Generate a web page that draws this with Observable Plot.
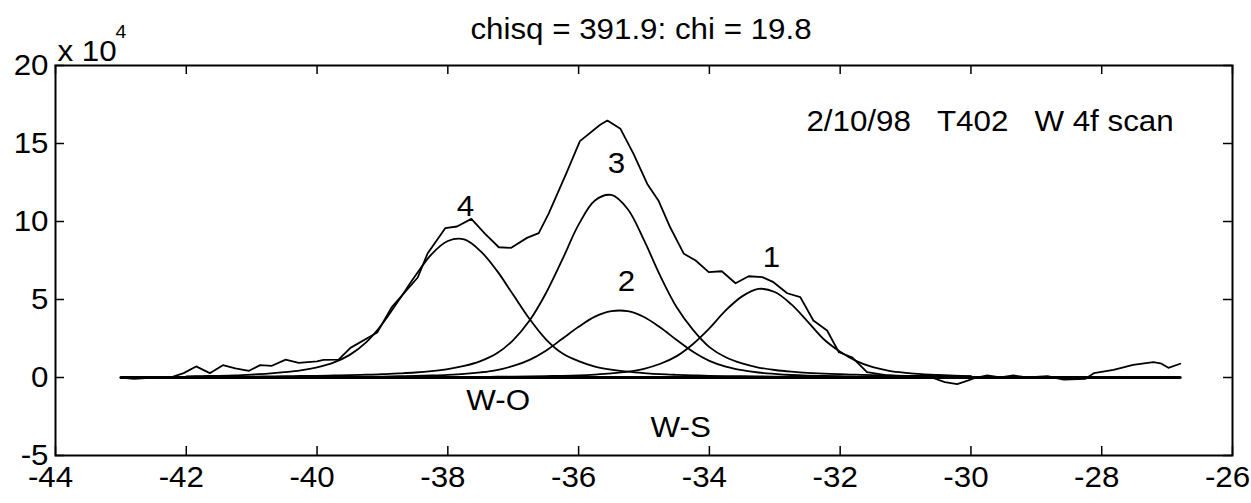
<!DOCTYPE html>
<html><head><meta charset="utf-8">
<script src="https://cdn.jsdelivr.net/npm/d3@7"></script>
<script src="https://cdn.jsdelivr.net/npm/@observablehq/plot@0.6"></script>
<style>body{margin:0;background:#fff;} svg{display:block}</style>
</head><body><div id="chart"></div>
<script>
// ---- data ----
const titleText = "chisq = 391.9: chi = 19.8";
const headerText = "2/10/98\u00a0\u00a0\u00a0T402\u00a0\u00a0\u00a0W 4f scan";
const xTicks = [-44, -42, -40, -38, -36, -34, -32, -30, -28, -26];
const yTicks = [-5, 0, 5, 10, 15, 20];

// measured scan (x 10^4)
const dataX = [-43.0,-42.8,-42.5,-42.2,-42.04,-41.85,-41.64,-41.59,-41.44,-41.25,
  -41.04,-40.87,-40.69,-40.48,-40.28,-40.0,-39.9,-39.67,-39.49,-39.08,
  -38.86,-38.46,-38.31,-38.04,-37.86,-37.64,-37.43,-37.22,-37.03,-36.79,
  -36.61,-36.46,-36.18,-35.98,-35.67,-35.56,-35.36,-35.16,-34.95,-34.78,
  -34.60,-34.39,-34.21,-34.01,-33.81,-33.60,-33.40,-33.19,-33.02,-32.81,
  -32.61,-32.41,-32.20,-32.02,-31.82,-31.59,-31.3,-31.0,-30.6,-30.4,
  -30.21,-30.05,-29.96,-29.75,-29.55,-29.35,-29.14,-28.83,-28.58,-28.25,
  -28.12,-27.82,-27.52,-27.21,-27.1,-26.98,-26.8];
const dataY = [0.0,-0.08,0.0,0.05,0.28,0.71,0.28,0.40,0.79,0.58,
  0.43,0.79,0.75,1.15,0.94,1.03,1.13,1.15,1.9,2.88,
  4.49,6.41,7.95,9.57,9.68,10.17,9.21,8.35,8.31,8.95,
  9.25,10.49,13.16,15.15,16.2,16.47,15.94,14.33,12.41,11.35,
  9.63,7.93,7.5,6.75,6.81,6.04,6.49,6.43,6.11,5.40,
  5.15,3.65,3.01,1.62,1.30,0.34,0.15,0.05,0.0,-0.3,
  -0.42,-0.2,-0.06,0.13,0.0,0.13,0.0,0.08,-0.13,-0.08,
  0.28,0.49,0.81,0.98,0.91,0.62,0.88];

// fitted components sampled on a common grid
const compX = [-42,-41.75,-41.5,-41.25,-41,-40.75,-40.5,-40.25,-40,-39.75,
  -39.5,-39.25,-39,-38.75,-38.5,-38.25,-38,-37.75,-37.5,-37.25,
  -37,-36.75,-36.5,-36.25,-36,-35.75,-35.5,-35.25,-35,-34.75,
  -34.5,-34.25,-34,-33.75,-33.5,-33.25,-33,-32.75,-32.5,-32.25,
  -32,-31.75,-31.5,-31.25,-31,-30.75,-30.5,-30.25,-30];
const comp4 = [0.07,0.09,0.11,0.14,0.19,0.25,0.34,0.46,0.65,0.95,
  1.45,2.25,3.45,4.95,6.5,7.9,8.75,8.85,8.1,6.85,
  5.3,3.75,2.45,1.55,1.05,0.7,0.5,0.37,0.28,0.21,
  0.17,0.14,0.11,0.09,0.08,0.07,0.06,0.05,0.05,0.04,
  0.04,0.04,0.03,0.03,0.03,0.03,0.02,0.02,0.02];
const comp3 = [0.04,0.05,0.05,0.06,0.06,0.07,0.08,0.10,0.11,0.13,
  0.15,0.18,0.21,0.26,0.32,0.41,0.54,0.74,1.05,1.55,
  2.4,3.65,5.4,7.55,9.8,11.35,11.7,10.8,8.8,6.5,
  4.5,3.05,1.95,1.3,0.9,0.64,0.48,0.37,0.29,0.25,
  0.21,0.18,0.15,0.13,0.11,0.10,0.09,0.08,0.07];
const comp2 = [0.01,0.01,0.01,0.02,0.02,0.02,0.02,0.03,0.03,0.03,
  0.04,0.05,0.06,0.08,0.10,0.13,0.17,0.23,0.33,0.48,
  0.74,1.13,1.72,2.48,3.25,3.9,4.25,4.25,3.88,3.2,
  2.4,1.65,1.07,0.7,0.47,0.32,0.23,0.16,0.12,0.10,
  0.08,0.06,0.05,0.04,0.04,0.03,0.03,0.02,0.02];
const comp1 = [0.01,0.01,0.01,0.01,0.01,0.01,0.01,0.01,0.02,0.02,
  0.02,0.02,0.02,0.02,0.03,0.03,0.03,0.04,0.04,0.05,
  0.055,0.07,0.09,0.11,0.14,0.19,0.26,0.37,0.56,0.88,
  1.37,2.15,3.15,4.3,5.2,5.68,5.48,4.7,3.6,2.45,
  1.65,1.05,0.66,0.43,0.3,0.21,0.16,0.12,0.09];

const baseX = [-43, -26.8];
const baseY = [0, 0];

// annotation labels (text, x, y in data units)
const labelText = ["4", "3", "2", "1", "W-O", "W-S"];
const labelX = [-37.73, -35.42, -35.27, -33.05, -37.23, -34.44];
const labelY = [10.96, 13.72, 6.15, 7.69, -1.47, -3.2];

// ---- build ----
const W = 1251, H = 503;
const mT = 65, mB = 48, mL = 55, mR = 19;
const PW = W - mL - mR, PH = H - mT - mB;
const TL = 9; // inward tick length
const FS = 29;

const measured = dataX.map((x, i) => ({x, y: dataY[i]}));
const comps = [comp1, comp2, comp3, comp4].map(c => compX.map((x, i) => ({x, y: c[i]})));
const base = baseX.map((x, i) => ({x, y: baseY[i]}));
const labels = labelText.map((t, i) => ({t, x: labelX[i], y: labelY[i]}));

const chart = Plot.plot({
  width: W, height: H,
  marginTop: mT, marginBottom: mB, marginLeft: mL, marginRight: mR,
  x: {domain: [-44, -26], axis: null},
  y: {domain: [-5, 20], axis: null},
  style: {fontFamily: "'Liberation Sans', Arial, sans-serif", background: "#fff", color: "#000"},
  marks: [
    Plot.line(base, {x: "x", y: "y", stroke: "#000", strokeWidth: 3}),
    ...comps.map(c => Plot.line(c, {x: "x", y: "y", stroke: "#000", strokeWidth: 1.8, curve: "catmull-rom"})),
    Plot.line(measured, {x: "x", y: "y", stroke: "#000", strokeWidth: 1.8}),
    Plot.frame({stroke: "#000", strokeWidth: 2}),
    Plot.tickX(xTicks, {x: d => d, insetTop: PH - TL, stroke: "#000", strokeWidth: 1.5}),
    Plot.tickX(xTicks, {x: d => d, insetBottom: PH - TL, stroke: "#000", strokeWidth: 1.5}),
    Plot.tickY(yTicks, {y: d => d, insetRight: PW - TL, stroke: "#000", strokeWidth: 1.5}),
    Plot.tickY(yTicks, {y: d => d, insetLeft: PW - TL, stroke: "#000", strokeWidth: 1.5}),
    Plot.text(xTicks, {x: d => d, frameAnchor: "bottom", dx: -5, dy: 31, text: d => String(d), fontSize: FS, fill: "#000"}),
    Plot.text(yTicks, {y: d => d, frameAnchor: "left", dx: -7, textAnchor: "end", text: d => String(d), fontSize: FS, fill: "#000"}),
    Plot.text([titleText], {frameAnchor: "top", dx: -3, dy: -47, text: d => d, fontSize: FS, fill: "#000"}),
    Plot.text(["x 10"], {frameAnchor: "top-left", textAnchor: "start", dx: 2, dy: -25, text: d => d, fontSize: FS, fill: "#000"}),
    Plot.text(["4"], {frameAnchor: "top-left", textAnchor: "start", dx: 60, dy: -40, text: d => d, fontSize: 18, fill: "#000"}),
    Plot.text([headerText], {x: () => -26.9, y: () => 16.4, textAnchor: "end", text: d => d, fontSize: FS, fill: "#000"}),
    Plot.text(labels, {x: "x", y: "y", text: "t", fontSize: FS, fill: "#000"})
  ]
});
chart.querySelectorAll("text").forEach(t => {
  const tr = t.getAttribute("transform");
  if (tr && tr.startsWith("translate")) t.setAttribute("transform", tr + " scale(1.08,1)");
});
document.getElementById("chart").appendChild(chart);
</script></body></html>
